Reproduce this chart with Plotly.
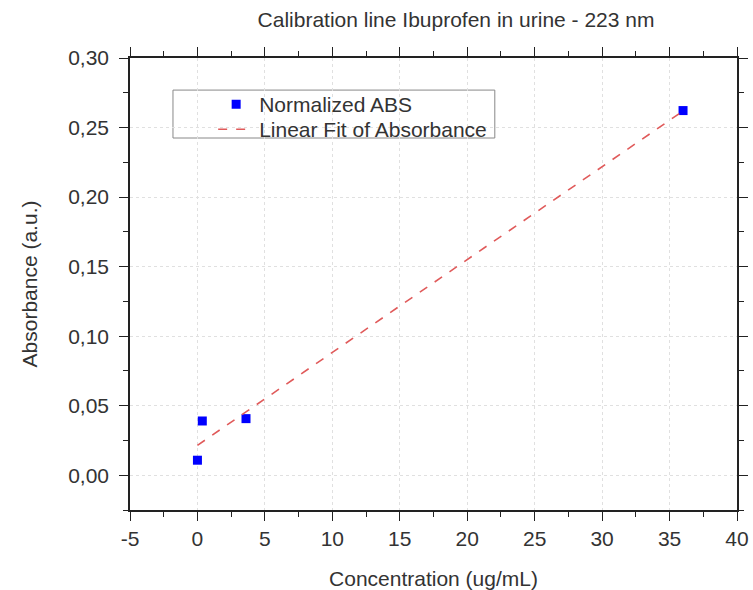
import plotly.graph_objects as go

# datos
concentracion = [0.0, 0.36, 3.6, 36.0]
absorbancia = [0.0108, 0.039, 0.0407, 0.2622]

ajuste_x = [0.0, 36.0]
ajuste_y = [0.0215, 0.2619]

ticks_x = [-5, 0, 5, 10, 15, 20, 25, 30, 35, 40]
etiquetas_x = ["-5", "0", "5", "10", "15", "20", "25", "30", "35", "40"]

fuente = "Liberation Sans, Arial, sans-serif"

fig = go.Figure()
fig.add_trace(go.Scatter(
    x=concentracion, y=absorbancia, mode="markers", name="Normalized ABS",
    marker=dict(symbol="square", size=9, color="#0000ff"), legend="legend",
))
fig.add_trace(go.Scatter(
    x=ajuste_x, y=ajuste_y, mode="lines", name="Linear Fit of Absorbance",
    line=dict(color="#e05a5a", width=1.6, dash="dash"), legend="legend2",
))

ejes = dict(
    showline=True, linecolor="#222", linewidth=1.5, mirror="allticks",
    ticks="outside", ticklen=9, tickwidth=1.3, tickcolor="#222",
    showgrid=True, gridcolor="#e0e0e0", griddash="dot", gridwidth=1,
    zeroline=False, tickfont=dict(size=21, color="#333"), automargin=False,
)

fig.update_xaxes(
    range=[-5, 40], tickvals=ticks_x, ticktext=etiquetas_x,
    minor=dict(dtick=2.5, tick0=0, ticks="outside", ticklen=5, tickcolor="#222", showgrid=False),
    title=dict(text="Concentration (ug/mL)", font=dict(size=21, color="#333"), standoff=22),
    **ejes,
)
fig.update_yaxes(
    range=[-0.025, 0.30], dtick=0.05, tick0=0, tickformat=".2f", ticklabelstandoff=6,
    minor=dict(dtick=0.025, ticks="outside", ticklen=5, tickcolor="#222", showgrid=False),
    title=dict(text="Absorbance (a.u.)", font=dict(size=21, color="#333"), standoff=25),
    **ejes,
)

# marco de la leyenda
fig.add_shape(type="rect", xref="paper", yref="paper",
              x0=0.0708, x1=0.601, y0=0.823, y1=0.929,
              line=dict(color="#888", width=1), fillcolor="white", layer="below")

leyenda = dict(xanchor="left", yanchor="top", borderwidth=0, bgcolor="rgba(0,0,0,0)",
               font=dict(size=21, color="#333"), itemwidth=36)

fig.update_layout(
    width=753, height=590,
    separators=", ",
    font=dict(family=fuente, color="#333"),
    title=dict(text="Calibration line Ibuprofen in urine - 223 nm", x=0.6056, xanchor="center",
               y=0.966, yanchor="middle", font=dict(size=21, color="#333")),
    plot_bgcolor="white", paper_bgcolor="white",
    margin=dict(l=130, r=16, t=58, b=80),
    legend=dict(x=0.137, y=0.9425, **leyenda),
    legend2=dict(x=0.137, y=0.887, **leyenda),
    showlegend=True,
)

fig.write_html("out.html", config={"displayModeBar": False},
               post_script="document.body.style.margin='0';document.body.style.overflow='hidden';")
